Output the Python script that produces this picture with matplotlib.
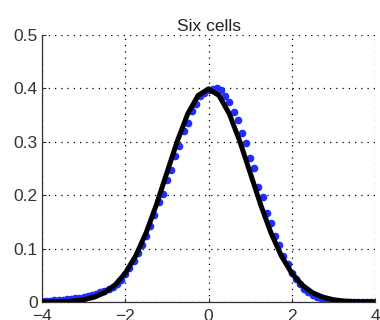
import numpy as np
import matplotlib
matplotlib.use("Agg")
import matplotlib.pyplot as plt

plt.rcParams['font.family'] = ['Liberation Sans', 'DejaVu Sans']

# curva teórica (densidad normal estándar)
x_curva = [-4.0, -3.75, -3.5, -3.25, -3.0, -2.75, -2.5, -2.25, -2.0, -1.75, -1.5,
           -1.25, -1.0, -0.75, -0.5, -0.25, 0.0, 0.25, 0.5, 0.75, 1.0, 1.25,
           1.5, 1.75, 2.0, 2.25, 2.5, 2.75, 3.0, 3.25, 3.5, 3.75, 4.0]
y_curva = [0.0001, 0.0004, 0.0009, 0.0020, 0.0044, 0.0091, 0.0175, 0.0317, 0.0540,
           0.0863, 0.1295, 0.1826, 0.2420, 0.3011, 0.3521, 0.3867, 0.3989, 0.3867,
           0.3521, 0.3011, 0.2420, 0.1826, 0.1295, 0.0863, 0.0540, 0.0317, 0.0175,
           0.0091, 0.0044, 0.0020, 0.0009, 0.0004, 0.0001]

# puntos empíricos (azul)
x_puntos = [round(-4.0 + 0.1 * i, 1) for i in range(81)]
y_puntos = [0.002, 0.002, 0.002, 0.003, 0.003, 0.004, 0.005, 0.006, 0.007, 0.008,
            0.009, 0.011, 0.013, 0.015, 0.018, 0.021, 0.025, 0.029, 0.034, 0.042,
            0.052, 0.063, 0.077, 0.092, 0.106, 0.124, 0.143, 0.163, 0.188, 0.203,
            0.228, 0.248, 0.274, 0.292, 0.320, 0.336, 0.358, 0.370, 0.385, 0.391,
            0.397, 0.399, 0.400, 0.396, 0.385, 0.375, 0.356, 0.340, 0.316, 0.298,
            0.270, 0.250, 0.215, 0.196, 0.166, 0.148, 0.124, 0.106, 0.087, 0.071,
            0.054, 0.043, 0.033, 0.025, 0.019, 0.014, 0.010, 0.007, 0.005, 0.003,
            0.002, 0.001, 0.001, 0.001, 0.001, 0.001, 0.001, 0.001, 0.001, 0.001,
            0.001]

xticks = [-4, -2, 0, 2, 4]
yticks = [0, 0.1, 0.2, 0.3, 0.4, 0.5]
yticklabels = ['0', '0.1', '0.2', '0.3', '0.4', '0.5']

fig = plt.figure(figsize=(3.8, 3.2), dpi=100)
ax = fig.add_axes([0.1105, 0.056, 0.8765, 0.835])

ax.plot(x_puntos, y_puntos, 'o', color='#1f2dff', markersize=5.5, markeredgewidth=0, zorder=2)
ax.plot(x_curva, y_curva, color='black', linewidth=3.6, zorder=3)

ax.set_xlim(-4, 4)
ax.set_ylim(0, 0.5)
ax.set_xticks(xticks)
ax.set_xticklabels(['\u22124', '\u22122', '0', '2', '4'])
ax.set_yticks(yticks)
ax.set_yticklabels(yticklabels)
ax.grid(True, color='black', linestyle=(0, (1, 4)), linewidth=0.9)
ax.set_axisbelow(True)
for lado in ['top', 'right']:
    ax.spines[lado].set_visible(False)
for lado in ['left', 'bottom']:
    ax.spines[lado].set_color('#333333')
    ax.spines[lado].set_linewidth(0.9)
ax.tick_params(direction='in', length=3, labelsize=12.5, colors='#333333', pad=3)
ax.tick_params(axis='x', pad=5)
ax.set_title('Six cells', fontsize=12.5, color='#222222', pad=3)

fig.savefig('out.png', dpi=100)
